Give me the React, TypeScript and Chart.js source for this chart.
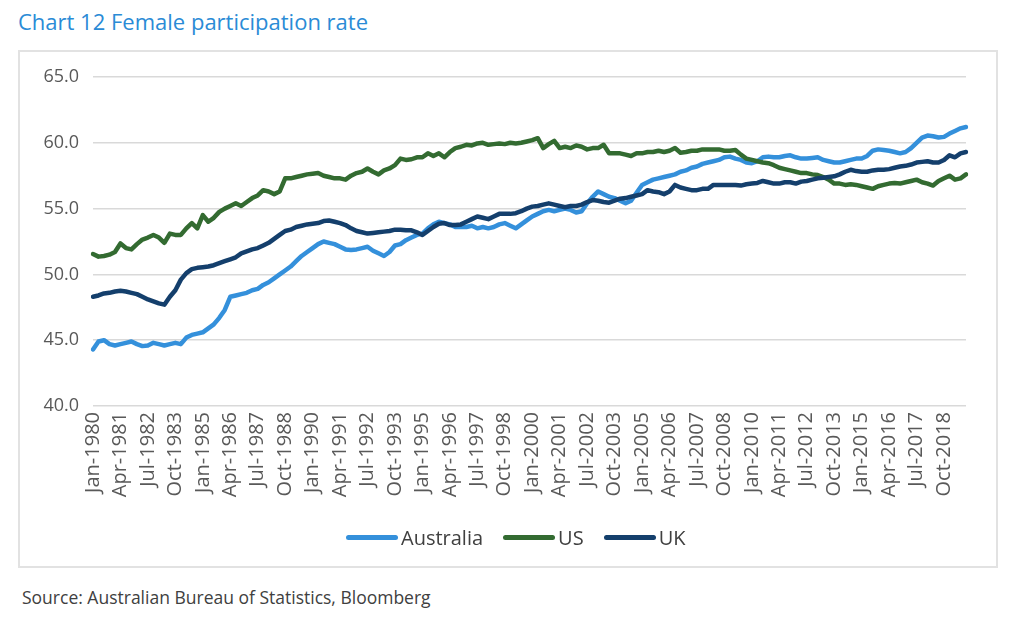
import { useEffect, useRef } from 'react';
import { Chart, registerables } from 'chart.js';

Chart.register(...registerables);

// quarterly points, Jan-1980 .. Oct-2019
const MONTHS = ['Jan', 'Apr', 'Jul', 'Oct'];
const YEARS = Array.from({ length: 40 }, (_, i) => 1980 + i);
const LABELS = YEARS.flatMap((y) => MONTHS.map((m) => `${m}-${y}`));

// Female participation rate, %
const AUSTRALIA = [
  44.3, 44.9, 45.0, 44.7, 44.6, 44.7, 44.8, 44.9, 44.7, 44.55, 44.6, 44.8, 44.7, 44.6, 44.7, 44.8,
  44.7, 45.2, 45.4, 45.5, 45.6, 45.9, 46.2, 46.7, 47.3, 48.3, 48.4, 48.5, 48.6, 48.8, 48.9, 49.2,
  49.4, 49.7, 50.0, 50.3, 50.6, 51.0, 51.4, 51.7, 52.0, 52.3, 52.5, 52.4, 52.3, 52.1, 51.9, 51.85,
  51.9, 52.0, 52.1, 51.8, 51.6, 51.4, 51.7, 52.2, 52.3, 52.6, 52.8, 53.0, 53.1, 53.5, 53.8, 54.0,
  53.9, 53.8, 53.6, 53.6, 53.6, 53.7, 53.5, 53.6, 53.5, 53.6, 53.8, 53.9, 53.7, 53.5, 53.8, 54.1,
  54.4, 54.6, 54.8, 54.9, 54.8, 54.9, 55.0, 54.9, 54.7, 54.8, 55.4, 55.9, 56.3, 56.1, 55.9, 55.8,
  55.6, 55.4, 55.6, 56.2, 56.8, 57.0, 57.2, 57.3, 57.4, 57.5, 57.6, 57.8, 57.9, 58.1, 58.2, 58.4,
  58.5, 58.6, 58.7, 58.9, 58.95, 58.8, 58.7, 58.5, 58.45, 58.6, 58.9, 58.95, 58.9, 58.9, 59.0, 59.05,
  58.9, 58.8, 58.8, 58.85, 58.9, 58.7, 58.6, 58.5, 58.5, 58.6, 58.7, 58.8, 58.8, 59.0, 59.4, 59.5,
  59.45, 59.4, 59.3, 59.2, 59.3, 59.6, 60.0, 60.4, 60.55, 60.5, 60.4, 60.45, 60.7, 60.9, 61.1, 61.2,
];

const US = [
  51.55, 51.35, 51.4, 51.5, 51.7, 52.35, 52.0, 51.9, 52.3, 52.65, 52.8, 53.0, 52.8, 52.4, 53.1, 53.0,
  53.0, 53.5, 53.9, 53.5, 54.5, 54.0, 54.3, 54.75, 55.0, 55.2, 55.4, 55.2, 55.5, 55.8, 56.0, 56.4,
  56.3, 56.1, 56.3, 57.3, 57.3, 57.4, 57.5, 57.6, 57.65, 57.7, 57.5, 57.4, 57.3, 57.3, 57.2, 57.5,
  57.7, 57.8, 58.05, 57.8, 57.6, 57.9, 58.05, 58.3, 58.8, 58.7, 58.75, 58.9, 58.9, 59.2, 59.0, 59.2,
  58.9, 59.3, 59.6, 59.7, 59.85, 59.8, 59.95, 60.0, 59.85, 59.9, 59.95, 59.9, 60.0, 59.95, 60.0, 60.1,
  60.2, 60.35, 59.6, 59.9, 60.15, 59.6, 59.7, 59.6, 59.8, 59.7, 59.5, 59.6, 59.6, 59.85, 59.2, 59.2,
  59.2, 59.1, 59.0, 59.2, 59.2, 59.3, 59.3, 59.4, 59.3, 59.4, 59.6, 59.25, 59.3, 59.4, 59.4, 59.5,
  59.5, 59.5, 59.5, 59.4, 59.4, 59.45, 59.1, 58.8, 58.7, 58.6, 58.5, 58.45, 58.3, 58.1, 58.0, 57.9,
  57.8, 57.7, 57.7, 57.6, 57.55, 57.4, 57.2, 56.9, 56.9, 56.8, 56.85, 56.8, 56.7, 56.6, 56.5, 56.7,
  56.8, 56.9, 56.95, 56.9, 57.0, 57.1, 57.2, 57.0, 56.9, 56.75, 57.1, 57.3, 57.5, 57.2, 57.3, 57.6,
];

const UK = [
  48.3, 48.4, 48.55, 48.6, 48.7, 48.75, 48.7, 48.6, 48.5, 48.3, 48.1, 47.95, 47.8, 47.7, 48.3, 48.8,
  49.6, 50.1, 50.4, 50.5, 50.55, 50.6, 50.7, 50.85, 51.0, 51.15, 51.3, 51.6, 51.75, 51.9, 52.0, 52.2,
  52.4, 52.7, 53.0, 53.3, 53.4, 53.6, 53.7, 53.8, 53.85, 53.9, 54.05, 54.1, 54.0, 53.9, 53.75, 53.5,
  53.3, 53.2, 53.1, 53.15, 53.2, 53.25, 53.3, 53.4, 53.4, 53.35, 53.35, 53.2, 53.0, 53.3, 53.6, 53.85,
  53.9, 53.75, 53.75, 53.8, 54.0, 54.2, 54.4, 54.3, 54.2, 54.4, 54.6, 54.6, 54.6, 54.65, 54.8, 55.0,
  55.15, 55.2, 55.3, 55.4, 55.3, 55.2, 55.1, 55.2, 55.2, 55.3, 55.5, 55.65, 55.6, 55.5, 55.45, 55.6,
  55.75, 55.8, 55.9, 56.0, 56.1, 56.4, 56.3, 56.25, 56.1, 56.3, 56.8, 56.6, 56.5, 56.4, 56.4, 56.5,
  56.5, 56.8, 56.8, 56.8, 56.8, 56.8, 56.75, 56.85, 56.9, 56.95, 57.1, 57.0, 56.9, 56.9, 57.0, 57.0,
  56.9, 57.05, 57.1, 57.2, 57.3, 57.35, 57.4, 57.45, 57.6, 57.8, 57.95, 57.85, 57.8, 57.8, 57.9, 57.95,
  57.95, 58.0, 58.1, 58.2, 58.25, 58.35, 58.5, 58.55, 58.6, 58.5, 58.5, 58.7, 59.05, 58.9, 59.2, 59.3,
];

const SERIES = [
  { label: 'Australia', data: AUSTRALIA, color: '#3490db' },
  { label: 'US', data: US, color: '#336b31' },
  { label: 'UK', data: UK, color: '#143f6c' },
];

const FONT = "'Open Sans', 'Noto Sans', sans-serif";

export default function App() {
  const canvasRef = useRef<HTMLCanvasElement>(null);

  useEffect(() => {
    if (!canvasRef.current) return;

    const chart = new Chart(canvasRef.current, {
      type: 'line',
      data: {
        labels: LABELS,
        // later series drawn on top, as in the original
        datasets: SERIES.map((s, i) => ({
          label: s.label,
          data: s.data,
          borderColor: s.color,
          backgroundColor: s.color,
          borderWidth: 4.5,
          pointRadius: 0,
          tension: 0,
          borderJoinStyle: 'round' as const,
          borderCapStyle: 'round' as const,
          order: SERIES.length - i,
        })),
      },
      options: {
        animation: false,
        responsive: false,
        layout: { padding: { top: 25, right: 25, bottom: 50, left: 0 } },
        plugins: {
          tooltip: { enabled: false },
          legend: { display: false },
        },
        scales: {
          x: {
            grid: { display: false, drawTicks: false },
            border: { display: false },
            afterFit: (s) => {
              s.height = 110;
            },
            ticks: {
              autoSkip: false,
              minRotation: 90,
              maxRotation: 90,
              padding: 6,
              color: '#595959',
              font: { family: FONT, size: 20 },
              callback: (_, i) => (i % 5 === 0 ? LABELS[i] : ''),
            },
          },
          y: {
            min: 40,
            max: 65,
            grid: { color: '#d9d9d9', lineWidth: 1.5, drawTicks: false },
            border: { display: false },
            afterFit: (s) => {
              s.width = 73;
            },
            ticks: {
              stepSize: 5,
              padding: 14,
              color: '#595959',
              font: { family: FONT, size: 18 },
              callback: (v) => Number(v).toFixed(1),
            },
          },
        },
      },
    });

    return () => {
      chart.destroy();
    };
  }, []);

  return (
    <div style={{ position: 'fixed', left: 0, top: 0, width: 1024, height: 618, background: '#fff', fontFamily: FONT }}>
      <div style={{ position: 'absolute', left: 18, top: 6, fontSize: 22, color: '#2a8bd6' }}>
        Chart 12 Female participation rate
      </div>
      <div
        style={{
          position: 'absolute',
          left: 18,
          top: 50,
          width: 976,
          height: 514,
          border: '2px solid #e2e2e2',
        }}
      >
        <canvas ref={canvasRef} width={976} height={514} style={{ display: 'block' }} />
      </div>
      <div
        style={{
          position: 'absolute',
          left: 346,
          top: 523,
          height: 28,
          display: 'flex',
          alignItems: 'center',
          gap: 20,
          fontSize: 20,
          color: '#404040',
        }}
      >
        {SERIES.map((s) => (
          <div key={s.label} style={{ display: 'flex', alignItems: 'center' }}>
            <span
              style={{
                display: 'inline-block',
                width: 52,
                height: 5,
                borderRadius: 3,
                background: s.color,
                marginRight: 3,
              }}
            />
            <span>{s.label}</span>
          </div>
        ))}
      </div>
      <div style={{ position: 'absolute', left: 22, top: 585, fontSize: 17.5, color: '#404040' }}>
        Source: Australian Bureau of Statistics, Bloomberg
      </div>
    </div>
  );
}
